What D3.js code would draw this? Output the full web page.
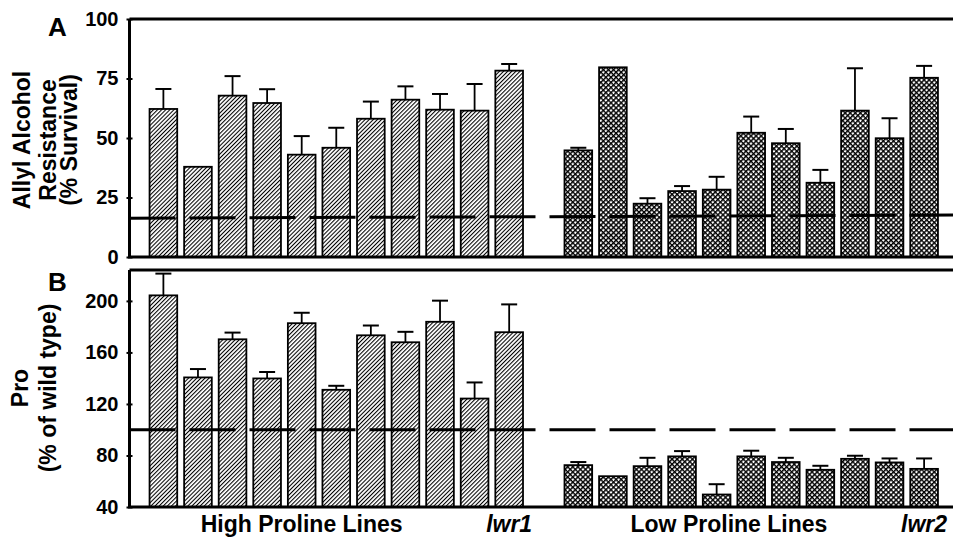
<!DOCTYPE html>
<html>
<head>
<meta charset="utf-8">
<script src="https://cdn.jsdelivr.net/npm/d3@7"></script>
<style>
  body { margin: 0; background: white; }
  text { font-family: "Liberation Sans", Arial, sans-serif; font-weight: bold; fill: black; }
</style>
</head>
<body>
<div id="chart"></div>
<script>
var w = 953;
var h = 538;

// lines (11 high proline incl. lwr1, 11 low proline incl. lwr2)
var highLines = ["H1", "H2", "H3", "H4", "H5", "H6", "H7", "H8", "H9", "H10", "lwr1"];
var lowLines = ["L1", "L2", "L3", "L4", "L5", "L6", "L7", "L8", "L9", "L10", "lwr2"];

// panel A: allyl alcohol resistance (% survival)
var resistHigh = [62.2, 37.9, 67.8, 64.7, 43.0, 45.9, 58.1, 66.1, 61.9, 61.5, 78.3];
var resistHighErr = [8.4, 0, 8.2, 5.8, 7.8, 8.4, 7.2, 5.6, 6.6, 11.2, 2.8];
var resistLow = [44.8, 79.7, 22.4, 27.7, 28.3, 52.2, 47.8, 31.2, 61.5, 49.9, 75.3];
var resistLowErr = [1.1, 0, 2.3, 2.1, 5.4, 6.8, 6.0, 5.4, 17.8, 8.4, 5.0];
var resistWildType = [16.3, 17.6]; // dashed reference, left end / right end

// panel B: proline (% of wild type)
var proHigh = [204.3, 140.6, 170.2, 139.8, 182.7, 131.0, 173.3, 167.9, 183.8, 124.2, 175.7];
var proHighErr = [16.9, 6.5, 5.2, 5.0, 8.1, 3.1, 7.6, 8.1, 16.4, 12.5, 21.6];
var proLow = [72.5, 63.9, 71.7, 79.3, 49.7, 79.3, 74.9, 68.9, 77.4, 74.6, 69.6];
var proLowErr = [2.4, 0, 6.5, 4.1, 8.0, 4.4, 3.3, 3.1, 2.4, 3.1, 8.1];
var proWildType = [100, 100];

var ticksA = [0, 25, 50, 75, 100];
var ticksB = [40, 80, 120, 160, 200];

var left = 129.5;
var right = w;

var svg = d3.select("#chart").append("svg")
    .attr("width", w)
    .attr("height", h);

var defs = svg.append("defs");
var hatch = defs.append("pattern")
    .attr("id", "hatch")
    .attr("patternUnits", "userSpaceOnUse")
    .attr("width", 2.9).attr("height", 2.9)
    .attr("patternTransform", "rotate(45)");
hatch.append("rect").attr("width", 2.9).attr("height", 2.9).attr("fill", "white");
hatch.append("line")
    .attr("x1", 0.5).attr("y1", 0).attr("x2", 0.5).attr("y2", 2.9)
    .attr("stroke", "black").attr("stroke-width", 1.1);

var cross = defs.append("pattern")
    .attr("id", "cross")
    .attr("patternUnits", "userSpaceOnUse")
    .attr("width", 3.6).attr("height", 3.6)
    .attr("patternTransform", "rotate(45)");
cross.append("rect").attr("width", 3.6).attr("height", 3.6).attr("fill", "white");
cross.append("path")
    .attr("d", "M0,0.7H3.6M0.7,0V3.6")
    .attr("stroke", "black").attr("stroke-width", 1.5);

var slots = highLines.concat(["gap"], lowLines);
var x = d3.scaleBand()
    .domain(slots)
    .range([left, 958])
    .paddingInner(0.2)
    .paddingOuter(0.58);

var yA = d3.scaleLinear().domain([0, 100]).range([257, 19]);
var yB = d3.scaleLinear().domain([40, 224]).range([507, 270]);

function rows(names, vals, errs, fill) {
    return names.map(function(n, i) {
        return { name: n, value: vals[i], err: errs[i], fill: fill };
    });
}

var dataA = rows(highLines, resistHigh, resistHighErr, "url(#hatch)")
    .concat(rows(lowLines, resistLow, resistLowErr, "url(#cross)"));
var dataB = rows(highLines, proHigh, proHighErr, "url(#hatch)")
    .concat(rows(lowLines, proLow, proLowErr, "url(#cross)"));

function panel(data, y, ticks, ref, letter, letterY, labelLines, labelXs, labelY) {
    var g = svg.append("g");
    var base = y.range()[0];
    var top = y.range()[1];

    g.selectAll("rect.bar")
        .data(data)
        .join("rect")
        .attr("class", "bar")
        .attr("x", d => x(d.name))
        .attr("y", d => y(d.value))
        .attr("width", x.bandwidth())
        .attr("height", d => base - y(d.value))
        .attr("fill", d => d.fill)
        .attr("stroke", "black")
        .attr("stroke-width", 1.8);

    var eb = data.filter(d => d.err > 0);
    g.selectAll("line.err")
        .data(eb)
        .join("line")
        .attr("class", "err")
        .attr("x1", d => x(d.name) + x.bandwidth() / 2)
        .attr("x2", d => x(d.name) + x.bandwidth() / 2)
        .attr("y1", d => y(d.value))
        .attr("y2", d => y(d.value + d.err))
        .attr("stroke", "black")
        .attr("stroke-width", 1.8);
    g.selectAll("line.cap")
        .data(eb)
        .join("line")
        .attr("class", "cap")
        .attr("x1", d => x(d.name) + x.bandwidth() / 2 - 8)
        .attr("x2", d => x(d.name) + x.bandwidth() / 2 + 8)
        .attr("y1", d => y(d.value + d.err))
        .attr("y2", d => y(d.value + d.err))
        .attr("stroke", "black")
        .attr("stroke-width", 2);

    // wild type reference
    g.append("line")
        .attr("x1", left).attr("x2", right)
        .attr("y1", y(ref[0])).attr("y2", y(ref[1]))
        .attr("stroke", "black")
        .attr("stroke-width", 3)
        .attr("stroke-dasharray", "46,14");

    // frame
    g.append("line")
        .attr("x1", left).attr("x2", right)
        .attr("y1", top).attr("y2", top)
        .attr("stroke", "black").attr("stroke-width", 3);
    g.append("line")
        .attr("x1", left - 1.5).attr("x2", right)
        .attr("y1", base).attr("y2", base)
        .attr("stroke", "black").attr("stroke-width", 3);

    var ax = g.append("g")
        .attr("transform", "translate(" + left + ",0)")
        .call(d3.axisLeft(y).tickValues(ticks).tickSize(3).tickSizeOuter(0).tickPadding(8));
    ax.select(".domain").attr("stroke-width", 3).attr("d", "M0," + top + "V" + base);
    ax.selectAll(".tick line").attr("x1", 3).attr("stroke-width", 2);
    ax.selectAll(".tick text")
        .attr("font-size", 20)
        .attr("font-family", "Liberation Sans, Arial, sans-serif")
        .attr("font-weight", "bold");

    svg.append("text")
        .attr("x", 48).attr("y", letterY)
        .attr("font-size", 26)
        .text(letter);

    labelLines.forEach(function(t, i) {
        svg.append("text")
            .attr("transform", "translate(" + labelXs[i] + "," + labelY + ") rotate(-90)")
            .attr("text-anchor", "middle")
            .attr("font-size", 23)
            .text(t);
    });
}

panel(dataA, yA, ticksA, resistWildType, "A", 36,
    ["Allyl Alcohol", "Resistance", "(% Survival)"], [30, 56, 77], 140);
panel(dataB, yB, ticksB, proWildType, "B", 291,
    ["Pro", "(% of wild type)"], [28, 56], 388);

// group labels under panel B
var groupLabels = [
    { text: "High Proline Lines", from: "H1", to: "H9", italic: false },
    { text: "lwr1", from: "lwr1", to: "lwr1", italic: true },
    { text: "Low Proline Lines", from: "L1", to: "L10", italic: false },
    { text: "lwr2", from: "lwr2", to: "lwr2", italic: true }
];
svg.selectAll("text.group")
    .data(groupLabels)
    .join("text")
    .attr("class", "group")
    .attr("x", (d, i) => (x(d.from) + x(d.to) + x.bandwidth()) / 2 + (i === 2 ? -5 : 0))
    .attr("y", 532)
    .attr("text-anchor", "middle")
    .attr("font-size", 23)
    .style("font-style", d => d.italic ? "italic" : "normal")
    .text(d => d.text);
</script>
</body>
</html>
